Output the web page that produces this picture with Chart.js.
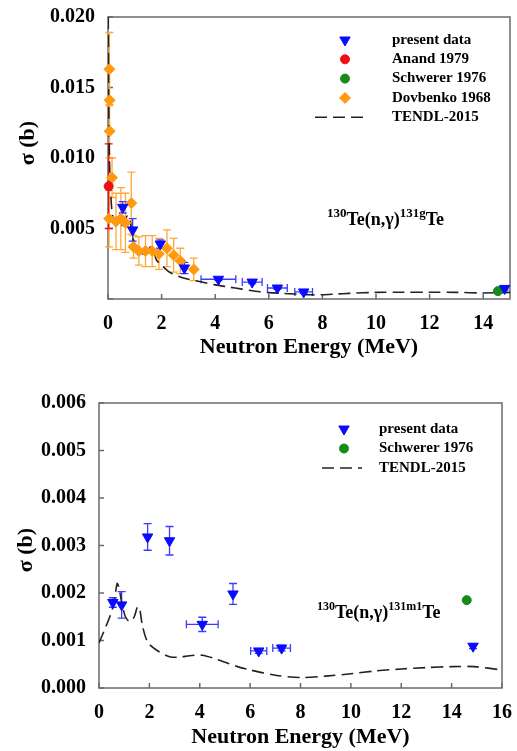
<!DOCTYPE html>
<html>
<head>
<meta charset="utf-8">
<script src="https://cdn.jsdelivr.net/npm/chart.js@4.4.1/dist/chart.umd.min.js"></script>
<style>
    html, body { margin: 0; padding: 0; background: #fff; }
    .panel { position: relative; width: 517px; }
    #top-panel { height: 375px; }
    #bottom-panel { height: 376px; }
</style>
</head>
<body>
<div class="panel" id="top-panel"><canvas id="chart-top"></canvas></div>
<div class="panel" id="bottom-panel"><canvas id="chart-bottom"></canvas></div>
<script>
const serif = '"Liberation Serif", "Times New Roman", serif';

// ---- top panel: 130Te(n,g)131gTe ----
const gPresentE     = [0.55, 0.92, 1.95, 2.85, 4.12, 5.38, 6.32, 7.30, 14.80];
const gPresentSigma = [0.0065, 0.0049, 0.0039, 0.0022, 0.0014, 0.0012, 0.00078, 0.0005, 0.00075];
const gPresentErr   = [0.0004, 0.0008, 0.0003, 0.0004, 0.0001, 0.0001, 0.0001, 0.0001, 0.0001];
const gPresentEErr  = [0, 0, 0, 0, 0.65, 0.37, 0.37, 0.33, 0];

const anandE     = [0.025];
const anandSigma = [0.008];
const anandErr   = [0.003];

const gSchwererE     = [14.55];
const gSchwererSigma = [0.00056];

const dovbenkoE     = [0.05, 0.06, 0.06, 0.15, 0.04, 0.30, 0.48, 0.65, 0.87, 0.95, 1.15, 1.40, 1.65, 1.90, 2.20, 2.45, 2.70, 3.20];
const dovbenkoSigma = [0.0163, 0.0141, 0.0119, 0.0086, 0.0057, 0.0055, 0.0057, 0.0054, 0.0068, 0.0037, 0.0034, 0.0034, 0.0034, 0.0032, 0.0036, 0.0031, 0.0027, 0.0021];
const dovbenkoErr   = [0.0026, 0.0023, 0.0019, 0.0014, 0.0020, 0.0020, 0.0022, 0.0021, 0.0022, 0.0008, 0.0010, 0.0011, 0.0011, 0.0011, 0.0013, 0.0012, 0.0009, 0.0008];

const gTendlE     = [0.01, 0.03, 0.06, 0.10, 0.15, 0.22, 0.35, 0.45, 0.60, 0.72, 0.80, 0.90, 1.00, 1.15, 1.30, 1.45, 1.60, 1.70, 1.80, 2.00, 2.30, 2.65, 3.00, 3.50, 4.00, 4.50, 5.00, 5.50, 6.00, 6.50, 7.00, 7.50, 8.00, 8.50, 9.00, 10.0, 11.0, 12.0, 13.0, 14.0, 15.0];
const gTendlSigma = [0.020, 0.013, 0.0095, 0.0075, 0.0062, 0.0055, 0.0051, 0.0051, 0.0054, 0.0059, 0.0058, 0.0046, 0.0038, 0.0034, 0.0032, 0.0034, 0.0037, 0.0035, 0.0028, 0.0024, 0.0019, 0.0016, 0.0014, 0.0012, 0.0010, 0.00085, 0.0007, 0.00055, 0.00045, 0.0004, 0.00035, 0.0003, 0.0003, 0.00035, 0.0004, 0.00047, 0.00048, 0.00048, 0.00047, 0.00043, 0.00047];

// ---- bottom panel: 130Te(n,g)131m1Te ----
const mPresentE     = [0.55, 0.90, 1.93, 2.80, 4.10, 5.32, 6.34, 7.25, 14.85];
const mPresentSigma = [0.0018, 0.00175, 0.00318, 0.0031, 0.00134, 0.00198, 0.00078, 0.00084, 0.00088];
const mPresentErr   = [0.0001, 0.00028, 0.00028, 0.0003, 0.00015, 0.00022, 0.00005, 0.00006, 0.00005];
const mPresentEErr  = [0, 0, 0, 0, 0.63, 0, 0.32, 0.35, 0];

const mSchwererE     = [14.6];
const mSchwererSigma = [0.00185];

const mTendlE     = [0, 0.20, 0.43, 0.60, 0.72, 0.80, 0.90, 1.05, 1.22, 1.40, 1.52, 1.60, 1.73, 1.93, 2.28, 2.80, 3.20, 3.60, 4.10, 4.70, 5.50, 6.00, 7.00, 8.00, 9.00, 10.0, 11.0, 12.0, 13.0, 14.0, 14.9, 16.0];
const mTendlSigma = [0.00095, 0.0012, 0.0015, 0.0018, 0.0022, 0.0021, 0.0018, 0.0015, 0.0014, 0.0015, 0.0017, 0.0017, 0.0013, 0.00097, 0.0008, 0.00066, 0.00065, 0.00068, 0.00069, 0.0006, 0.00045, 0.00038, 0.00027, 0.00022, 0.00025, 0.0003, 0.00036, 0.0004, 0.00043, 0.00045, 0.00045, 0.00038];

const toPoints = (xs, ys) => xs.map((x, i) => ({ x: x, y: ys[i] }));

const blue = '#0a0aff';
const red = '#f01010';
const green = '#178a17';
const orange = '#ff9a10';

const errorBarPlugin = {
    id: 'errorBars',
    beforeDatasetsDraw(chart) {
        const { ctx, chartArea: a, scales: { x, y } } = chart;
        ctx.save();
        ctx.beginPath();
        ctx.rect(a.left - 6, a.top, a.right - a.left + 12, a.bottom - a.top);
        ctx.clip();
        chart.data.datasets.slice().reverse().forEach((ds) => {
            if (!ds.errY && !ds.errX) return;
            ctx.strokeStyle = ds.errColor;
            ctx.lineWidth = 1.3;
            ctx.beginPath();
            ds.data.forEach((p, i) => {
                const px = x.getPixelForValue(p.x);
                const py = y.getPixelForValue(p.y);
                const ey = ds.errY ? ds.errY[i] : 0;
                const ex = ds.errX ? ds.errX[i] : 0;
                if (ey) {
                    const y1 = y.getPixelForValue(p.y + ey);
                    const y2 = y.getPixelForValue(p.y - ey);
                    ctx.moveTo(px, y1); ctx.lineTo(px, y2);
                    ctx.moveTo(px - 4, y1); ctx.lineTo(px + 4, y1);
                    ctx.moveTo(px - 4, y2); ctx.lineTo(px + 4, y2);
                }
                if (ex) {
                    const x1 = x.getPixelForValue(p.x - ex);
                    const x2 = x.getPixelForValue(p.x + ex);
                    ctx.moveTo(x1, py); ctx.lineTo(x2, py);
                    ctx.moveTo(x1, py - 4); ctx.lineTo(x1, py + 4);
                    ctx.moveTo(x2, py - 4); ctx.lineTo(x2, py + 4);
                }
            });
            ctx.stroke();
        });
        ctx.restore();
    }
};

const framePlugin = {
    id: 'frame',
    beforeDatasetsDraw(chart, args, opts) {
        const { ctx, chartArea: a, scales: { x, y } } = chart;
        ctx.save();
        ctx.strokeStyle = '#6a6a6a';
        ctx.lineWidth = 1.5;
        ctx.strokeRect(a.left, a.top, a.right - a.left, a.bottom - a.top);
        ctx.beginPath();
        x.ticks.forEach((t) => {
            const px = x.getPixelForValue(t.value);
            ctx.moveTo(px, a.bottom); ctx.lineTo(px, a.bottom - 5);
        });
        y.ticks.forEach((t) => {
            const py = y.getPixelForValue(t.value);
            ctx.moveTo(a.left, py); ctx.lineTo(a.left + 5, py);
        });
        ctx.stroke();

        // y axis title, rotated
        ctx.fillStyle = '#000';
        ctx.font = `bold 22px ${serif}`;
        ctx.textAlign = 'center';
        ctx.textBaseline = 'middle';
        ctx.translate(opts.yTitleX, opts.yTitleY);
        ctx.rotate(-Math.PI / 2);
        ctx.fillText('σ (b)', 0, 0);
        ctx.restore();
    }
};

const paperLegendPlugin = {
    id: 'paperLegend',
    afterDatasetsDraw(chart, args, opts) {
        const ctx = chart.ctx;
        ctx.save();
        ctx.font = `bold ${opts.fontSize}px ${serif}`;
        ctx.textBaseline = 'middle';
        chart.data.datasets.forEach((ds, i) => {
            const y = opts.y + i * opts.gap;
            if (ds.showLine) {
                ctx.strokeStyle = ds.borderColor;
                ctx.lineWidth = ds.borderWidth;
                ctx.setLineDash(ds.borderDash);
                ctx.beginPath();
                ctx.moveTo(opts.lineX0, y); ctx.lineTo(opts.lineX1, y);
                ctx.stroke();
                ctx.setLineDash([]);
            } else {
                ctx.fillStyle = ds.backgroundColor;
                ctx.strokeStyle = ds.borderColor;
                Chart.helpers.drawPoint(ctx, {
                    pointStyle: ds.pointStyle,
                    rotation: ds.pointRotation || 0,
                    radius: ds.pointRadius,
                    borderWidth: 1
                }, opts.markerX, y);
            }
            ctx.fillStyle = '#000';
            ctx.fillText(ds.label, opts.textX, y);
        });
        ctx.restore();
    }
};

const reactionLabelPlugin = {
    id: 'reactionLabel',
    afterDatasetsDraw(chart, args, opts) {
        const ctx = chart.ctx;
        ctx.save();
        ctx.fillStyle = '#000';
        ctx.textBaseline = 'alphabetic';
        let x = opts.x;
        opts.parts.forEach((part) => {
            const size = part.sup ? opts.supSize : opts.mainSize;
            ctx.font = `bold ${size}px ${serif}`;
            ctx.fillText(part.text, x, part.sup ? opts.y - opts.supRise : opts.y);
            x += ctx.measureText(part.text).width;
        });
        ctx.restore();
    }
};

const makeChart = (canvasId, datasets, setup) => {
    return new Chart(document.getElementById(canvasId), {
        type: 'scatter',
        data: { datasets: datasets },
        options: {
            responsive: true,
            maintainAspectRatio: false,
            animation: false,
            layout: { padding: setup.padding },
            plugins: {
                legend: { display: false },
                tooltip: { enabled: false },
                frame: { yTitleX: setup.yTitleX, yTitleY: setup.yTitleY },
                paperLegend: setup.legend,
                reactionLabel: setup.reaction
            },
            scales: {
                x: {
                    type: 'linear',
                    min: 0,
                    max: setup.xMax,
                    afterFit: (scale) => { scale.height = setup.xHeight; },
                    border: { display: false },
                    grid: { display: false },
                    ticks: {
                        stepSize: 2,
                        includeBounds: false,
                        padding: 5,
                        color: '#000',
                        font: { family: serif, size: 20, weight: 'bold' }
                    },
                    title: {
                        display: true,
                        text: 'Neutron Energy (MeV)',
                        color: '#000',
                        padding: { top: 0, bottom: setup.xTitlePad },
                        font: { family: serif, size: 22, weight: 'bold' }
                    }
                },
                y: {
                    type: 'linear',
                    min: 0,
                    max: setup.yMax,
                    afterFit: (scale) => { scale.width = setup.yWidth; },
                    border: { display: false },
                    grid: { display: false },
                    ticks: {
                        stepSize: setup.yStep,
                        padding: 5,
                        color: '#000',
                        font: { family: serif, size: 20, weight: 'bold' },
                        callback: (v) => (v === 0 && setup.hideZero) ? '' : v.toFixed(3)
                    }
                }
            }
        },
        plugins: [framePlugin, errorBarPlugin, paperLegendPlugin, reactionLabelPlugin]
    });
};

const presentStyle = {
    pointStyle: 'triangle', pointRotation: 180, pointRadius: 6,
    backgroundColor: blue, borderColor: blue, borderWidth: 1, errColor: '#3c3cff', clip: false
};
const tendlStyle = {
    showLine: true, pointRadius: 0, borderColor: '#222', borderWidth: 1.6,
    borderDash: [12, 6], backgroundColor: '#222', tension: 0.3
};

function main() {
    makeChart('chart-top', [
        Object.assign({ label: 'present data', data: toPoints(gPresentE, gPresentSigma),
            errY: gPresentErr, errX: gPresentEErr }, presentStyle),
        { label: 'Anand 1979', data: toPoints(anandE, anandSigma), errY: anandErr, errColor: red,
            pointStyle: 'circle', pointRadius: 4.5, backgroundColor: red, borderColor: red, clip: false },
        { label: 'Schwerer 1976', data: toPoints(gSchwererE, gSchwererSigma),
            pointStyle: 'circle', pointRadius: 4.5, backgroundColor: green, borderColor: green, clip: false },
        { label: 'Dovbenko 1968', data: toPoints(dovbenkoE, dovbenkoSigma), errY: dovbenkoErr, errColor: '#ffa836',
            pointStyle: 'rectRot', pointRadius: 5.5, backgroundColor: orange, borderColor: orange, clip: false },
        Object.assign({ label: 'TENDL-2015', data: toPoints(gTendlE, gTendlSigma) }, tendlStyle)
    ], {
        padding: { left: 0, right: 1, top: 15, bottom: 0 },
        xMax: 15, xHeight: 76, xTitlePad: 14,
        yMax: 0.02, yStep: 0.005, yWidth: 108, hideZero: true,
        yTitleX: 28, yTitleY: 143,
        legend: { markerX: 345, textX: 392, y: 40, gap: 19.3, fontSize: 15, lineX0: 315, lineX1: 368 },
        reaction: { x: 327, y: 225, mainSize: 18, supSize: 13, supRise: 8,
            parts: [{ text: '130', sup: true }, { text: 'Te(n,γ)' }, { text: '131g', sup: true }, { text: 'Te' }] }
    });

    makeChart('chart-bottom', [
        Object.assign({ label: 'present data', data: toPoints(mPresentE, mPresentSigma),
            errY: mPresentErr, errX: mPresentEErr }, presentStyle),
        { label: 'Schwerer 1976', data: toPoints(mSchwererE, mSchwererSigma),
            pointStyle: 'circle', pointRadius: 4.5, backgroundColor: green, borderColor: green, clip: false },
        Object.assign({ label: 'TENDL-2015', data: toPoints(mTendlE, mTendlSigma) }, tendlStyle)
    ], {
        padding: { left: 0, right: 11, top: 28, bottom: 0 },
        xMax: 16, xHeight: 63, xTitlePad: 0,
        yMax: 0.006, yStep: 0.001, yWidth: 99, hideZero: false,
        yTitleX: 26, yTitleY: 175,
        legend: { markerX: 344, textX: 379, y: 54, gap: 19.5, fontSize: 15, lineX0: 322, lineX1: 362 },
        reaction: { x: 317, y: 243, mainSize: 18, supSize: 12, supRise: 8,
            parts: [{ text: '130', sup: true }, { text: 'Te(n,γ)' }, { text: '131m1', sup: true }, { text: 'Te' }] }
    });
}

main();
</script>
</body>
</html>
